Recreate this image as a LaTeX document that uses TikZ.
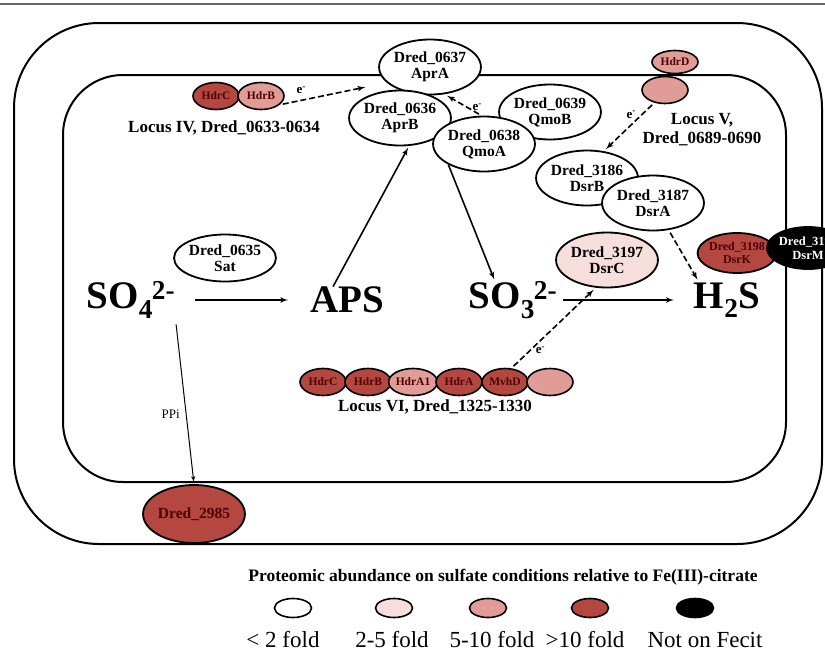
\documentclass[tikz,border=0pt]{standalone}
\usepackage{fontspec}
\setmainfont{Liberation Serif}
\usetikzlibrary{shapes,arrows}
\definecolor{foldlow}{RGB}{246,222,220}
\definecolor{foldmid}{RGB}{226,156,152}
\definecolor{foldhigh}{RGB}{180,72,64}
\tikzset{font=\bfseries}

\begin{document}
\begin{tikzpicture}
  [x=1pt, y=-1pt, every node/.style={inner sep=0pt},
  prot/.style={ellipse, draw=black, line width=1.8pt, fill=white, align=center, minimum width=94pt, minimum height=55pt, font=\fontsize{15.5}{16}\selectfont\bfseries},
  sub/.style={ellipse, draw=black, line width=1.6pt, minimum width=46pt, minimum height=27pt, font=\fontsize{11.5}{12}\selectfont\bfseries, text=black!70!red},
  key/.style={ellipse, draw=black, line width=1.6pt, minimum width=37pt, minimum height=19pt},
  cmpd/.style={font=\fontsize{39}{39}\selectfont\bfseries},
  locus/.style={font=\fontsize{17}{19}\selectfont\bfseries, align=center},
  elabel/.style={font=\fontsize{13}{13}\selectfont\bfseries},
  keylabel/.style={font=\fontsize{23}{23}\selectfont\mdseries},
  cell/.style={draw, line width=2pt},
  line/.style={draw, line width=1.6pt, -latex', shorten >=2pt},
  eline/.style={draw, line width=1.6pt, dash pattern=on 6pt off 3pt, -latex', shorten >=3pt, shorten <=3pt}]
  \useasboundingbox (0,0) rectangle (825,654);
  % membranes
  \draw[gray!80!black, line width=1.5pt] (0,4) -- (825,4);
  \draw[cell, rounded corners=85] (14,23) rectangle (822,544);
  \draw[cell, rounded corners=60] (63,75) rectangle (786,482);

  % compounds
  \node[cmpd] (so4) at (131,300) {SO\textsubscript{4}\kern-1pt\textsuperscript{2-}};
  \node[cmpd] (aps) at (347,300) {APS};
  \node[cmpd] (so3) at (513,300) {SO\textsubscript{3}\kern-1pt\textsuperscript{2-}};
  \node[cmpd] (h2s) at (727,300) {H\textsubscript{2}S};

  % Apr / Qmo
  \node[prot] (aprA) at (430,67) {Dred\_0637\\AprA};
  \node[prot] (qmoB) at (550,112) {Dred\_0639\\QmoB};
  \node[prot] (aprB) at (400,118) {Dred\_0636\\AprB};
  \node[prot] (qmoA) at (484,144) {Dred\_0638\\QmoA};
  \node[prot, minimum height=47pt] (sat) at (225,258) {Dred\_0635\\Sat};

  % locus IV
  \node[sub, fill=foldhigh] (hdrCiv) at (216,96) {HdrC};
  \node[sub, fill=foldmid] (hdrBiv) at (261,96) {HdrB};
  \node[locus] (locusIV) at (224,128) {Locus IV, Dred\_0633-0634};

  % locus V
  \node[sub, fill=foldmid] (hdrDb) at (665,90) {};
  \node[sub, fill=foldmid, minimum height=23pt] (hdrD) at (675,62) {HdrD};
  \node[locus] (locusV) at (702,130) {Locus V,\\Dred\_0689-0690};

  % Dsr
  \node[prot] (dsrB) at (587,178) {Dred\_3186\\DsrB};
  \node[prot] (dsrA) at (653,203) {Dred\_3187\\DsrA};
  \node[prot, fill=foldlow] (dsrC) at (607,260) {Dred\_3197\\DsrC};
  \node[prot, fill=foldhigh, minimum width=66pt, minimum height=40pt, font=\fontsize{12}{13}\selectfont\bfseries, text=black!70!red] (dsrK) at (737,253) {Dred\_3198\\DsrK};
  \node[prot, fill=black, minimum width=72pt, minimum height=42pt, font=\fontsize{12.5}{13.5}\selectfont\bfseries, text=white] (dsrM) at (808,248) {Dred\_3199\\DsrM};

  % locus VI
  \node[sub, fill=foldhigh] (hdrCvi) at (323,382) {HdrC};
  \node[sub, fill=foldhigh] (hdrBvi) at (368,382) {HdrB};
  \node[sub, fill=foldmid] (hdrAvi) at (413,382) {HdrA1};
  \node[sub, fill=foldhigh] (hdrA) at (459,382) {HdrA};
  \node[sub, fill=foldhigh] (mvhD) at (505,382) {MvhD};
  \node[sub, fill=foldmid] (blankvi) at (550,382) {};
  \node[locus] (locusVI) at (435,407) {Locus VI, Dred\_1325-1330};

  % periplasm
  \node[prot, fill=foldhigh, minimum width=98pt, minimum height=58pt, font=\fontsize{15.5}{16}\selectfont\bfseries, text=black!70!red] (dred2985) at (194,514) {Dred\_2985};

  \begin{scope}[every path/.style=line]
    \path (so4.east) -- (aps.west) [shorten <=20pt, shorten >=22pt];
    \path ([xshift=-14pt]aps.north) -- (aprB.-72);
    \path (qmoA.210) -- ([xshift=-18pt]so3.north);
    \path (so3.east) -- (h2s.west) [shorten <=6pt, shorten >=20pt];
    \path[line width=1pt] (so4.south east) -- (dred2985.north) [shorten <=6pt]
      node[pos=0.58, left=6pt, font=\fontsize{13}{13}\selectfont\mdseries] (ppi) {PPi};
  \end{scope}
  \begin{scope}[every path/.style=eline]
    \path (hdrBiv.-25) -- (aprA.200) [shorten >=22pt]
      node[pos=0.2, above=6pt, elabel] (e1) {e\textsuperscript{-}};
    \path (qmoA.95) -- (aprA.-62)
      node[pos=0.4, right=5pt, elabel] (e2) {e\textsuperscript{-}};
    \path (hdrDb.230) -- (dsrB.58)
      node[pos=0.25, left=5pt, elabel] (e3) {e\textsuperscript{-}};
    \path (dsrA.-60) -- ([xshift=-28pt]h2s.north);
    \path (mvhD.65) -- (dsrC.248)
      node[pos=0.22, right=5pt, elabel] (e4) {e\textsuperscript{-}};
  \end{scope}

  % legend
  \node[font=\fontsize{17.5}{17.5}\selectfont\bfseries] (keytitle) at (503,577) {Proteomic abundance on sulfate conditions relative to Fe(III)-citrate};
  \node[key, fill=white] (k1) at (293,608) {};
  \node[key, fill=foldlow] (k2) at (394,608) {};
  \node[key, fill=foldmid] (k3) at (488,608) {};
  \node[key, fill=foldhigh] (k4) at (590,608) {};
  \node[key, fill=black] (k5) at (695,608) {};
  \node[keylabel] at (283,640) {< 2 fold};
  \node[keylabel] at (392,640) {2-5 fold};
  \node[keylabel] at (492,640) {5-10 fold};
  \node[keylabel] at (585,640) {>10 fold};
  \node[keylabel] at (705,640) {Not on Fecit};
\end{tikzpicture}
\end{document}
